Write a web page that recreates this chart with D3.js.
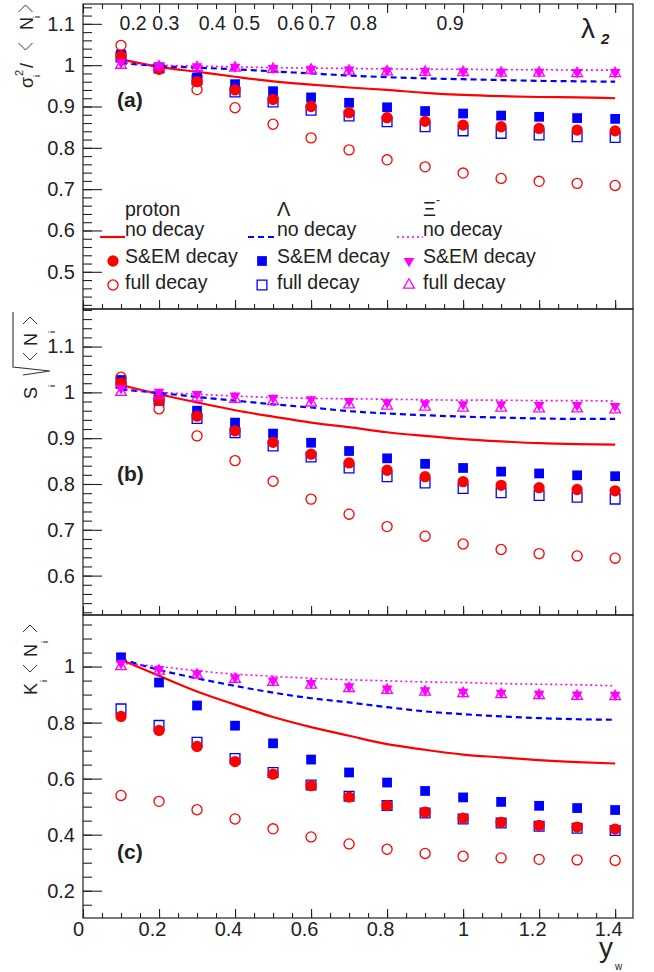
<!DOCTYPE html>
<html>
<head>
<meta charset="utf-8">
<script src="https://cdn.jsdelivr.net/npm/d3@7"></script>
<style>
  body { margin: 0; background: #fff; }
  svg { display: block; }
  text { font-family: "Liberation Sans", Arial, sans-serif; fill: #222; }
</style>
</head>
<body>
<div id="chart"></div>
<script>
// ---- data ----
const yw = [0.1, 0.2, 0.3, 0.4, 0.5, 0.6, 0.7, 0.8, 0.9, 1.0, 1.1, 1.2, 1.3, 1.4];

// (a) sigma^2 / <N>
const aProtonNo   = [1.014, 0.996, 0.984, 0.972, 0.961, 0.953, 0.946, 0.940, 0.933, 0.928, 0.925, 0.923, 0.922, 0.920];
const aProtonSem  = [1.022, 0.992, 0.960, 0.940, 0.917, 0.900, 0.885, 0.873, 0.864, 0.855, 0.851, 0.847, 0.843, 0.841];
const aProtonFull = [1.048, 0.990, 0.941, 0.897, 0.857, 0.824, 0.795, 0.771, 0.754, 0.739, 0.726, 0.719, 0.714, 0.709];
const aLambdaNo   = [1.005, 0.998, 0.994, 0.990, 0.985, 0.980, 0.975, 0.971, 0.968, 0.966, 0.964, 0.962, 0.961, 0.960];
const aLambdaSem  = [1.026, 0.994, 0.970, 0.954, 0.937, 0.922, 0.909, 0.898, 0.889, 0.883, 0.878, 0.875, 0.872, 0.870];
const aLambdaFull = [1.020, 0.993, 0.964, 0.935, 0.911, 0.891, 0.877, 0.863, 0.851, 0.841, 0.835, 0.831, 0.827, 0.825];
const aXiNo       = [1.006, 1.000, 0.998, 0.996, 0.994, 0.993, 0.992, 0.991, 0.990, 0.990, 0.989, 0.989, 0.988, 0.988];
const aXiSem      = [1.006, 0.998, 0.997, 0.996, 0.993, 0.991, 0.989, 0.987, 0.986, 0.985, 0.984, 0.984, 0.983, 0.983];
const aXiFull     = [1.000, 0.996, 0.994, 0.993, 0.990, 0.988, 0.986, 0.984, 0.983, 0.982, 0.981, 0.981, 0.980, 0.980];

// (b) S sqrt(<N>)
const bProtonNo   = [1.016, 0.996, 0.978, 0.961, 0.947, 0.934, 0.924, 0.913, 0.905, 0.898, 0.893, 0.889, 0.887, 0.886];
const bProtonSem  = [1.020, 0.983, 0.948, 0.916, 0.891, 0.865, 0.846, 0.830, 0.816, 0.805, 0.797, 0.792, 0.788, 0.785];
const bProtonFull = [1.033, 0.964, 0.905, 0.851, 0.806, 0.767, 0.734, 0.707, 0.686, 0.669, 0.657, 0.648, 0.643, 0.638];
const bLambdaNo   = [1.006, 0.999, 0.990, 0.982, 0.974, 0.967, 0.959, 0.954, 0.950, 0.947, 0.945, 0.943, 0.942, 0.942];
const bLambdaSem  = [1.027, 0.990, 0.960, 0.934, 0.910, 0.890, 0.872, 0.856, 0.844, 0.835, 0.827, 0.823, 0.819, 0.817];
const bLambdaFull = [1.020, 0.983, 0.943, 0.912, 0.883, 0.859, 0.835, 0.816, 0.802, 0.790, 0.781, 0.775, 0.771, 0.767];
const bXiNo       = [1.008, 1.000, 0.996, 0.992, 0.989, 0.987, 0.986, 0.985, 0.984, 0.983, 0.983, 0.982, 0.982, 0.981];
const bXiSem      = [1.009, 1.001, 0.996, 0.993, 0.988, 0.985, 0.981, 0.978, 0.976, 0.974, 0.974, 0.972, 0.972, 0.970];
const bXiFull     = [1.000, 0.993, 0.988, 0.985, 0.980, 0.977, 0.973, 0.970, 0.968, 0.966, 0.966, 0.964, 0.964, 0.962];

// (c) K <N>
const cProtonNo   = [1.024, 0.967, 0.911, 0.864, 0.820, 0.784, 0.753, 0.723, 0.703, 0.686, 0.676, 0.666, 0.659, 0.654];
const cProtonSem  = [0.822, 0.772, 0.715, 0.661, 0.616, 0.575, 0.534, 0.504, 0.480, 0.459, 0.444, 0.433, 0.427, 0.420];
const cProtonFull = [0.540, 0.519, 0.489, 0.456, 0.421, 0.392, 0.367, 0.348, 0.333, 0.323, 0.317, 0.312, 0.310, 0.308];
const cLambdaNo   = [1.027, 0.988, 0.958, 0.931, 0.907, 0.887, 0.872, 0.855, 0.840, 0.830, 0.822, 0.816, 0.812, 0.810];
const cLambdaSem  = [1.033, 0.943, 0.861, 0.789, 0.726, 0.668, 0.622, 0.586, 0.556, 0.533, 0.517, 0.503, 0.495, 0.488];
const cLambdaFull = [0.849, 0.790, 0.730, 0.672, 0.622, 0.577, 0.537, 0.504, 0.477, 0.456, 0.442, 0.430, 0.423, 0.415];
const cXiNo       = [1.012, 1.000, 0.985, 0.973, 0.965, 0.958, 0.953, 0.949, 0.945, 0.943, 0.939, 0.937, 0.935, 0.931];
const cXiSem      = [1.012, 0.991, 0.976, 0.961, 0.950, 0.941, 0.929, 0.921, 0.915, 0.910, 0.906, 0.903, 0.900, 0.899];
const cXiFull     = [1.000, 0.984, 0.970, 0.955, 0.944, 0.934, 0.922, 0.915, 0.909, 0.904, 0.900, 0.897, 0.894, 0.893];

// top axis: lambda_2 values and where they sit in y_w
const lambdaLabels = ["0.2", "0.3", "0.4", "0.5", "0.6", "0.7", "0.8", "0.9"];
const lambdaAtYw   = [0.132, 0.218, 0.340, 0.430, 0.547, 0.629, 0.738, 0.966];

// tick values
const xTicks = [0, 0.2, 0.4, 0.6, 0.8, 1.0, 1.2, 1.4];
const yTicksA = [0.5, 0.6, 0.7, 0.8, 0.9, 1.0, 1.1];
const yTicksB = [0.6, 0.7, 0.8, 0.9, 1.0, 1.1];
const yTicksC = [0.2, 0.4, 0.6, 0.8, 1.0];

const RED = "#ff0000", BLUE = "#0000ff", MAG = "#ff00ff";

// ---- layout ----
const width = 654, height = 972;
const x = d3.scaleLinear().domain([0, 1.447]).range([83, 633]);

const panels = [
  { tag: "(a)", top: 4,   bottom: 309, domain: [0.41, 1.148], ticks: yTicksA, minor: 0.02, labelY: 107,
    no: [aProtonNo, aLambdaNo, aXiNo], sem: [aProtonSem, aLambdaSem, aXiSem], full: [aProtonFull, aLambdaFull, aXiFull] },
  { tag: "(b)", top: 309, bottom: 615, domain: [0.514, 1.182], ticks: yTicksB, minor: 0.02, labelY: 481,
    no: [bProtonNo, bLambdaNo, bXiNo], sem: [bProtonSem, bLambdaSem, bXiSem], full: [bProtonFull, bLambdaFull, bXiFull] },
  { tag: "(c)", top: 615, bottom: 918, domain: [0.1026, 1.184], ticks: yTicksC, minor: 0.05, labelY: 859,
    no: [cProtonNo, cLambdaNo, cXiNo], sem: [cProtonSem, cLambdaSem, cXiSem], full: [cProtonFull, cLambdaFull, cXiFull] }
];

// line styles: proton, Lambda, Xi
const lineStyle = [
  { color: RED,  width: 2.2, dash: null },
  { color: BLUE, width: 2.2, dash: "6,4" },
  { color: MAG,  width: 1.6, dash: "2,3" }
];
// markers
const semMarker  = [
  { type: d3.symbolCircle,   size: 100, fill: RED,  stroke: "none", rot: 0 },
  { type: d3.symbolSquare,   size: 95,  fill: BLUE, stroke: "none", rot: 0 },
  { type: d3.symbolTriangle, size: 50,  fill: MAG,  stroke: "none", rot: 180 }
];
const fullMarker = [
  { type: d3.symbolCircle,   size: 80,  fill: "none", stroke: RED,  rot: 0 },
  { type: d3.symbolSquare,   size: 95,  fill: "none", stroke: BLUE, rot: 0 },
  { type: d3.symbolTriangle, size: 50,  fill: "none", stroke: MAG,  rot: 0 }
];

const svg = d3.select("#chart").append("svg")
  .attr("width", width).attr("height", height);

function minorTicks(domain, step) {
  const out = [];
  const s = Math.ceil(domain[0] / step - 1e-9);
  for (let k = s; k * step <= domain[1] + 1e-9; k++) out.push(+(k * step).toFixed(4));
  return out;
}

function addMarker(g, m, px, py) {
  g.append("path")
    .attr("d", d3.symbol().type(m.type).size(m.size)())
    .attr("transform", `translate(${px},${py}) rotate(${m.rot})`)
    .attr("fill", m.fill)
    .attr("stroke", m.stroke)
    .attr("stroke-width", m.stroke === "none" ? 0 : 1.3);
}

panels.forEach((p, pi) => {
  const y = d3.scaleLinear().domain(p.domain).range([p.bottom, p.top]);
  const g = svg.append("g");

  // lines
  const line = d3.line().x((d, i) => x(yw[i])).y(d => y(d)).curve(d3.curveMonotoneX);
  p.no.forEach((vals, s) => {
    g.append("path").datum(vals)
      .attr("d", line)
      .attr("fill", "none")
      .attr("stroke", lineStyle[s].color)
      .attr("stroke-width", lineStyle[s].width)
      .attr("stroke-dasharray", lineStyle[s].dash);
  });

  // markers: Lambda first, then proton, then Xi
  [1, 0, 2].forEach(s => {
    p.sem[s].forEach((v, i) => addMarker(g, semMarker[s], x(yw[i]), y(v)));
    p.full[s].forEach((v, i) => addMarker(g, fullMarker[s], x(yw[i]), y(v)));
  });

  // axes
  const yMinor = minorTicks(p.domain, p.minor);
  g.append("g").attr("transform", `translate(${x.range()[0]},0)`)
    .call(d3.axisLeft(y).tickValues(yMinor).tickSize(-9).tickFormat(""));
  g.append("g").attr("transform", `translate(${x.range()[0]},0)`)
    .call(d3.axisLeft(y).tickValues(p.ticks).tickSize(-19).tickPadding(8).tickFormat(d3.format("~g")));

  const xMinor = minorTicks(x.domain(), 0.05);
  g.append("g").attr("transform", `translate(0,${p.bottom})`)
    .call(d3.axisBottom(x).tickValues(xMinor).tickSize(-5).tickFormat(""));
  const xb = g.append("g").attr("transform", `translate(0,${p.bottom})`)
    .call(d3.axisBottom(x).tickValues(xTicks).tickSize(-9).tickPadding(4)
      .tickFormat(pi === 2 ? d3.format("~g") : ""));
  if (pi === 2) {
    xb.selectAll(".tick text")
      .attr("dx", d => (d === 0 ? -5 : d === 1 ? 0 : -7));
  }
  if (pi === 0) {
    g.append("g").attr("transform", `translate(0,${p.top})`)
      .call(d3.axisTop(x).tickValues(xMinor).tickSize(-5).tickFormat(""));
    g.append("g").attr("transform", `translate(0,${p.top})`)
      .call(d3.axisTop(x).tickValues(xTicks).tickSize(-9).tickFormat(""));
  }

  // frame
  g.append("rect")
    .attr("x", x.range()[0]).attr("y", p.top)
    .attr("width", x.range()[1] - x.range()[0]).attr("height", p.bottom - p.top)
    .attr("fill", "none").attr("stroke", "#222").attr("stroke-width", 1.2);

  g.selectAll(".domain").remove();
  g.selectAll(".tick line").attr("stroke", "#222").attr("stroke-width", 1.1);
  g.selectAll(".tick text").attr("font-size", 20).attr("fill", "#222")
    .attr("font-family", '"Liberation Sans", Arial, sans-serif');

  // panel tag
  g.append("text").attr("x", 117).attr("y", p.labelY)
    .attr("font-size", 21).attr("font-weight", "bold").text(p.tag);
});

// top lambda_2 labels
svg.append("g").selectAll("text").data(lambdaLabels).join("text")
  .attr("x", (d, i) => x(lambdaAtYw[i]))
  .attr("y", 30)
  .attr("text-anchor", "middle")
  .attr("font-size", 19.5)
  .text(d => d);
svg.append("text").attr("x", 581).attr("y", 38)
  .attr("font-family", '"Liberation Serif", serif').attr("font-size", 28).text("λ");
svg.append("text").attr("x", 601).attr("y", 44)
  .attr("font-size", 15).attr("font-weight", "bold").attr("font-style", "italic").text("2");

// x-axis title
svg.append("text").attr("x", 599).attr("y", 957).attr("font-size", 28).text("y");
svg.append("text").attr("x", 615).attr("y", 970).attr("font-size", 10).text("w");

// y-axis titles (rotated group: local u runs up the page, v points right)
function rotTitle(x0, y0) {
  return svg.append("g").attr("transform", `translate(${x0},${y0}) rotate(-90)`);
}
function bracket(t, u0, open) {
  const d = open ? `M${u0 + 7},-14 L${u0},-7 L${u0 + 7},0` : `M${u0},-14 L${u0 + 7},-7 L${u0},0`;
  t.append("path").attr("d", d).attr("fill", "none").attr("stroke", "#333").attr("stroke-width", 1);
}
{
  const t = rotTitle(32.5, 90);
  t.append("text").attr("x", 2).attr("font-size", 18).text("σ");
  t.append("text").attr("x", 14).attr("y", -10).attr("font-size", 11).text("2");
  t.append("text").attr("x", 13).attr("y", 7).attr("font-size", 9).text("i");
  t.append("text").attr("x", 22).attr("font-size", 18).text("/");
  bracket(t, 40, true);
  t.append("text").attr("x", 60).attr("font-size", 18).text("N");
  t.append("text").attr("x", 72).attr("y", 7).attr("font-size", 9).text("i");
  bracket(t, 78, false);
}
{
  const t = rotTitle(37, 400);
  t.append("text").attr("x", 1).attr("font-size", 18).text("S");
  t.append("text").attr("x", 13).attr("y", 18).attr("font-size", 9).text("i");
  t.append("path").attr("d", "M25,-14 L29,13 L33,-24 L88,-24")
    .attr("fill", "none").attr("stroke", "#333").attr("stroke-width", 1.1);
  bracket(t, 40, true);
  t.append("text").attr("x", 54).attr("font-size", 18).text("N");
  t.append("text").attr("x", 67).attr("y", 18).attr("font-size", 9).text("i");
  bracket(t, 76, false);
}
{
  const t = rotTitle(37, 697);
  t.append("text").attr("x", 2).attr("font-size", 18).text("K");
  t.append("text").attr("x", 15).attr("y", 10).attr("font-size", 9).text("i");
  bracket(t, 25, true);
  t.append("text").attr("x", 40).attr("font-size", 18).text("N");
  t.append("text").attr("x", 54).attr("y", 11).attr("font-size", 9).text("i");
  bracket(t, 65, false);
}

// legend
const legendCols = [
  { header: "proton", hx: 125, lineX: [100, 125], markX: 113, textX: 125 },
  { header: "Λ",      hx: 277, lineX: [248, 275], markX: 262, textX: 277 },
  { header: "Ξ",      hx: 423, lineX: [397, 423], markX: 409, textX: 423 }
];
const leg = svg.append("g");
legendCols.forEach((c, s) => {
  leg.append("text").attr("x", c.hx).attr("y", 216)
    .attr("font-size", s === 0 ? 19.5 : 20)
    .attr("font-family", s === 0 ? '"Liberation Sans", Arial, sans-serif' : '"Liberation Serif", serif')
    .text(c.header);
  if (s === 2) leg.append("text").attr("x", 436).attr("y", 204).attr("font-size", 12).text("-");
  leg.append("line").attr("x1", c.lineX[0]).attr("x2", c.lineX[1]).attr("y1", 237).attr("y2", 237)
    .attr("stroke", lineStyle[s].color).attr("stroke-width", lineStyle[s].width)
    .attr("stroke-dasharray", lineStyle[s].dash);
  leg.append("text").attr("x", c.textX).attr("y", 236).attr("font-size", 19.5).text("no decay");
  addMarker(leg, semMarker[s], c.markX, 261);
  leg.append("text").attr("x", c.textX).attr("y", 263).attr("font-size", 19.5).text("S&EM decay");
  addMarker(leg, fullMarker[s], c.markX, 285);
  leg.append("text").attr("x", c.textX).attr("y", 289).attr("font-size", 19.5).text("full decay");
});
</script>
</body>
</html>
